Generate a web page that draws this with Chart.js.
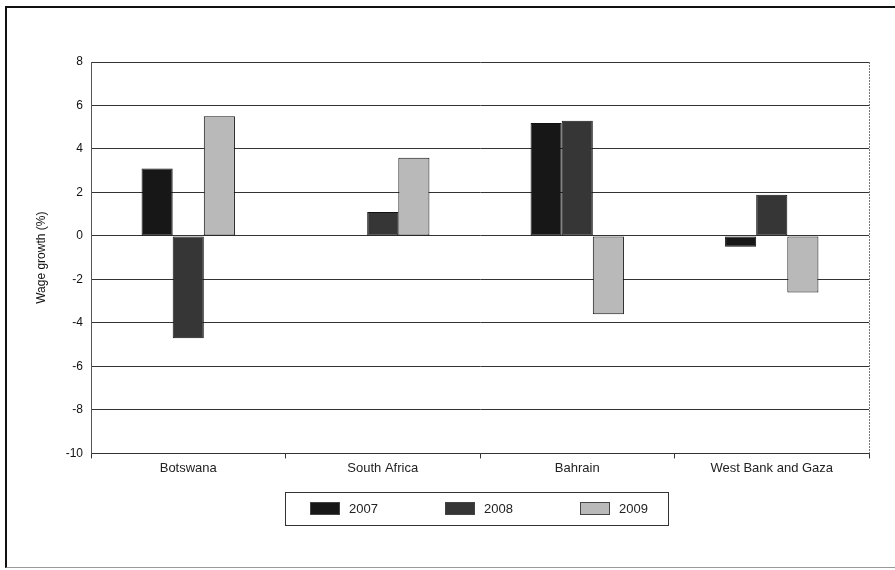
<!DOCTYPE html>
<html>
<head>
<meta charset="utf-8">
<script src="https://cdn.jsdelivr.net/npm/chart.js@4/dist/chart.umd.min.js"></script>
<style>
  html, body { margin: 0; padding: 0; background: #fff; }
  #wrap { position: relative; width: 895px; height: 570px; overflow: hidden; }
  #frame { position: absolute; left: 5px; top: 6px; width: 900px; height: 562px;
           border-left: 2px solid #111; border-top: 2px solid #111; border-bottom: 1px solid #999;
           box-sizing: border-box; }
  canvas { position: absolute; left: 0; top: 0; }
</style>
</head>
<body>
<div id="wrap">
  <div id="frame"></div>
  <canvas id="c" width="895" height="570"></canvas>
</div>
<script>
// Wage growth by economy and year
const categories = ['Botswana', 'South Africa', 'Bahrain', 'West Bank and Gaza'];
const years = ['2007', '2008', '2009'];
const wage2007 = [3.1, null, 5.2, -0.5];
const wage2008 = [-4.7, 1.1, 5.3, 1.9];
const wage2009 = [5.5, 3.6, -3.6, -2.6];
const yTicks = [8, 6, 4, 2, 0, -2, -4, -6, -8, -10];

const fills = ['#171717', '#363636', '#b9b9b9'];
const FONT = '"Liberation Sans", Arial, sans-serif';

// right edge of the plot frame
const plotEdge = {
  id: 'plotEdge',
  afterDraw(chart) {
    const a = chart.chartArea, ctx = chart.ctx;
    ctx.save();
    ctx.strokeStyle = '#777';
    ctx.lineWidth = 1;
    ctx.setLineDash([2, 1]);
    ctx.beginPath();
    ctx.moveTo(Math.round(a.right) + 0.5, a.top);
    ctx.lineTo(Math.round(a.right) + 0.5, a.bottom);
    ctx.stroke();
    ctx.restore();
  }
};

// boxed legend centred under the plot
const boxedLegend = {
  id: 'boxedLegend',
  afterDraw(chart) {
    const a = chart.chartArea, ctx = chart.ctx;
    const cx = (a.left + a.right) / 2;
    const step = 135, swW = 30, swH = 13;
    const cy = a.bottom + 55;
    ctx.save();
    ctx.strokeStyle = '#333';
    ctx.lineWidth = 1;
    ctx.strokeRect(Math.round(cx - 195) + 0.5, Math.round(cy - 16) + 0.5, 383, 33);
    ctx.font = '13px ' + FONT;
    ctx.textBaseline = 'middle';
    chart.data.datasets.forEach((ds, i) => {
      const x = Math.round(cx - 170 + i * step);
      ctx.fillStyle = ds.backgroundColor;
      ctx.fillRect(x, Math.round(cy - swH / 2), swW, swH);
      ctx.strokeStyle = '#444';
      ctx.strokeRect(x + 0.5, Math.round(cy - swH / 2) + 0.5, swW - 1, swH - 1);
      ctx.fillStyle = '#222';
      ctx.fillText(ds.label, x + 39, cy + 1);
    });
    ctx.restore();
  }
};

new Chart(document.getElementById('c'), {
  type: 'bar',
  data: {
    labels: categories,
    datasets: [
      { label: years[0], data: wage2007 },
      { label: years[1], data: wage2008 },
      { label: years[2], data: wage2009 }
    ].map((d, i) => Object.assign(d, {
      backgroundColor: fills[i],
      borderColor: '#111',
      borderWidth: 1,
      borderSkipped: false,
      categoryPercentage: 0.48,
      barPercentage: 1
    }))
  },
  options: {
    responsive: false,
    animation: false,
    devicePixelRatio: 1,
    layout: { padding: { left: 0, top: 62, right: 26, bottom: 92 } },
    plugins: {
      tooltip: { enabled: false },
      legend: { display: false }
    },
    scales: {
      x: {
        offset: true,
        grid: { display: true, offset: true, drawOnChartArea: false, drawTicks: true,
                tickLength: 5, color: '#333' },
        border: { display: true, color: '#333', width: 1 },
        ticks: { color: '#222', padding: 2, font: { family: FONT, size: 13 } }
      },
      y: {
        min: -10,
        max: 8,
        afterFit(scale) { scale.width = 91; },
        afterBuildTicks(scale) { scale.ticks = yTicks.map(v => ({ value: v })); },
        grid: { color: '#333', lineWidth: 1, drawTicks: false },
        border: { display: true, color: '#555', width: 1 },
        ticks: {
          color: '#111',
          padding: 8,
          font: { family: FONT, size: 12 },
          callback: v => String(v)
        },
        title: {
          display: true,
          text: 'Wage growth (%)',
          color: '#111',
          padding: { top: 34, bottom: 0 },
          font: { family: FONT, size: 12 }
        }
      }
    }
  },
  plugins: [plotEdge, boxedLegend]
});
</script>
</body>
</html>
